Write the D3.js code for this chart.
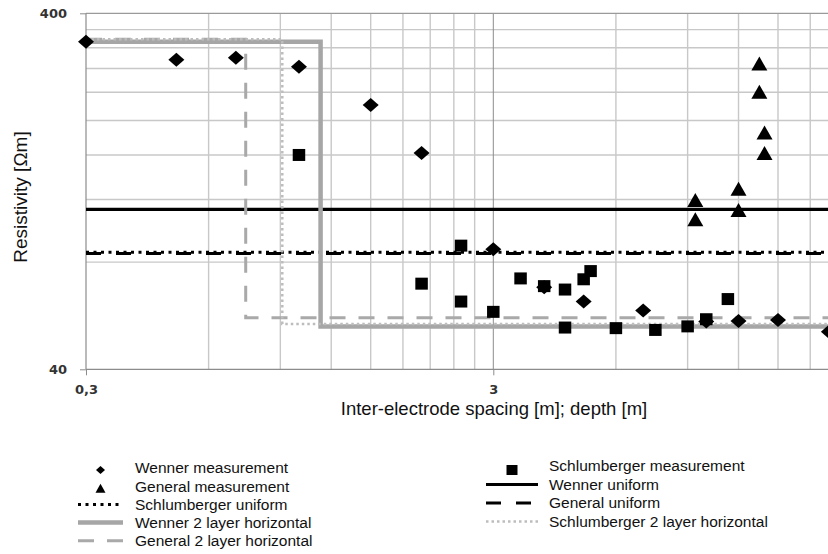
<!DOCTYPE html>
<html>
<head>
<meta charset="utf-8">
<script src="https://cdn.jsdelivr.net/npm/d3@7"></script>
<style>
  body { margin: 0; background: #fff; }
  svg { display: block; font-family: "Liberation Sans", Arial, sans-serif; }
</style>
</head>
<body>
<svg id="chart" width="828" height="554"></svg>
<script>
// measurements
const wennerX = [0.3, 0.5, 0.7, 1, 1.5, 2, 3, 4, 5, 7, 10, 12, 15, 20];
const wennerY = [333, 296, 300, 283, 221, 162, 87, 68, 62, 58.5, 54.5, 54.7, 55, 51];
const schlumX = [1, 2, 2.5, 2.5, 3, 3.5, 4, 4.5, 4.5, 5, 5.2, 6, 7.5, 9, 10, 11.3];
const schlumY = [160, 69.6, 89, 62, 58, 72, 68.5, 67, 52.4, 71.6, 75.5, 52.2, 51.6, 52.8, 55.3, 63];
const generalX = [9.4, 9.4, 12, 12, 13.5, 13.5, 13.9, 13.9];
const generalY = [119.5, 105.5, 128.5, 112, 289, 241, 185, 162];

// uniform models
const wennerUniform = 112.6;
const schlumUniform = 85.3;
const generalUniform = 84.6;

// 2 layer models (x = spacing/depth, y = resistivity)
const wenner2X = [0.3, 1.13, 1.13, 30];
const wenner2Y = [333, 333, 52.8, 52.8];
const schlum2X = [0.3, 0.91, 0.91, 30];
const schlum2Y = [338, 338, 53.6, 53.6];
const general2X = [0.3, 0.74, 0.74, 30];
const general2Y = [338, 338, 55.8, 55.8];

// axes
const xMinor = [0.6, 0.9, 1.2, 1.5, 1.8, 2.1, 2.4, 2.7, 6, 9, 12, 15, 18, 21, 24, 27];
const xMajor = [3, 30];
const yMinor = [80, 120, 160, 200, 240, 280, 320, 360];
const yMajor = [400];
const xTicks = [0.3, 3];
const yTicks = [40, 400];

const svg = d3.select('#chart');

const margin = {left: 86, top: 13.3, bottom: 369.3};
const xScale = d3.scaleLog().domain([0.3, 30]).range([margin.left, margin.left + 2 * 407.3]);
const yScale = d3.scaleLog().domain([40, 400]).range([margin.bottom, margin.top]);
const x0 = xScale.range()[0], x1 = xScale.range()[1];

// grid
const grid = svg.append('g');
xMinor.forEach(v => {
    grid.append('line')
        .attr('x1', xScale(v)).attr('x2', xScale(v))
        .attr('y1', margin.top).attr('y2', margin.bottom)
        .style('stroke', '#c8c8c8').style('stroke-width', 1.4);
});
yMinor.forEach(v => {
    grid.append('line')
        .attr('x1', x0).attr('x2', x1)
        .attr('y1', yScale(v)).attr('y2', yScale(v))
        .style('stroke', '#c8c8c8').style('stroke-width', 1.4);
});
xMajor.forEach(v => {
    grid.append('line')
        .attr('x1', xScale(v)).attr('x2', xScale(v))
        .attr('y1', margin.top).attr('y2', margin.bottom)
        .style('stroke', '#8c8c8c').style('stroke-width', 1);
});
yMajor.forEach(v => {
    grid.append('line')
        .attr('x1', x0).attr('x2', x1)
        .attr('y1', yScale(v)).attr('y2', yScale(v))
        .style('stroke', '#9a9a9a').style('stroke-width', 1.2);
});

// axes
const commaFmt = d3.formatLocale({decimal: ',', thousands: '.', grouping: [3], currency: ['', '']}).format('~g');

const yAxis = svg.append('g')
    .attr('transform', `translate(${x0},0)`)
    .call(d3.axisLeft(yScale).tickValues(yTicks).tickFormat(d => d).tickSize(6).tickPadding(13));
const xAxis = svg.append('g')
    .attr('transform', `translate(0,${margin.bottom})`)
    .call(d3.axisBottom(xScale).tickValues(xTicks).tickFormat(commaFmt).tickSize(6).tickPadding(9));

[yAxis, xAxis].forEach(a => {
    a.select('.domain').remove();
    a.selectAll('line').style('stroke', '#8c8c8c');
    a.selectAll('text')
        .style('font-family', '"DejaVu Sans", sans-serif')
        .style('font-size', '13px')
        .style('font-weight', 'bold')
        .style('fill', '#333');
});
svg.append('line').attr('x1', x0).attr('x2', x0).attr('y1', margin.top).attr('y2', margin.bottom)
    .style('stroke', '#8c8c8c').style('stroke-width', 1.2);
svg.append('line').attr('x1', x0).attr('x2', x1).attr('y1', margin.bottom).attr('y2', margin.bottom)
    .style('stroke', '#8c8c8c').style('stroke-width', 1.2);

// axis titles
svg.append('text')
    .attr('transform', `translate(27,197) rotate(-90)`)
    .attr('text-anchor', 'middle')
    .style('font-size', '19px')
    .style('fill', '#111')
    .text('Resistivity [Ωm]');
svg.append('text')
    .attr('x', 494).attr('y', 415)
    .attr('text-anchor', 'middle')
    .style('font-size', '18.5px')
    .style('fill', '#111')
    .text('Inter-electrode spacing [m]; depth [m]');

// line styles
const styles = {
    wennerU: {stroke: '#000', width: 3.2, dash: null},
    schlumU: {stroke: '#000', width: 3, dash: '3,4.5'},
    generalU: {stroke: '#000', width: 3, dash: '15,15'},
    wenner2: {stroke: '#a6a6a6', width: 4.5, dash: null},
    schlum2: {stroke: '#bdbdbd', width: 2.5, dash: '2.5,3'},
    general2: {stroke: '#a9a9a9', width: 3, dash: '16,13'}
};

const lineGen = d3.line().x(d => xScale(d[0])).y(d => yScale(d[1]));
const plotLine = (xs, ys, st) => {
    svg.append('path')
        .datum(xs.map((v, i) => [v, ys[i]]))
        .attr('d', lineGen)
        .style('fill', 'none')
        .style('stroke', st.stroke)
        .style('stroke-width', st.width)
        .style('stroke-dasharray', st.dash);
};

plotLine([0.3, 30], [wennerUniform, wennerUniform], styles.wennerU);
plotLine([0.3, 30], [generalUniform, generalUniform], styles.generalU);
plotLine([0.3, 30], [schlumUniform, schlumUniform], styles.schlumU);
plotLine(wenner2X, wenner2Y, styles.wenner2);
plotLine(general2X, general2Y, styles.general2);
plotLine(schlum2X, schlum2Y, styles.schlum2);

// markers
const diamond = (w, h) => `M0,${-h / 2}L${w / 2},0L0,${h / 2}L${-w / 2},0Z`;
const square = (w, h) => `M${-w / 2},${-h / 2}h${w}v${h}h${-w}Z`;
const triangle = (w, h) => `M0,${-h / 2}L${w / 2},${h / 2}L${-w / 2},${h / 2}Z`;

const plotMarkers = (xs, ys, shape) => {
    svg.append('g').selectAll('path')
        .data(xs.map((v, i) => [v, ys[i]]))
        .join('path')
        .attr('transform', d => `translate(${xScale(d[0])},${yScale(d[1])})`)
        .attr('d', shape)
        .style('fill', '#000');
};

plotMarkers(wennerX, wennerY, diamond(16, 14));
plotMarkers(schlumX, schlumY, square(12.5, 12));
plotMarkers(generalX, generalY, triangle(16, 14));

// legend
const legendLeft = [
    {label: 'Wenner measurement', marker: diamond(9, 8)},
    {label: 'General measurement', marker: triangle(10, 9)},
    {label: 'Schlumberger uniform', line: styles.schlumU},
    {label: 'Wenner 2 layer horizontal', line: styles.wenner2},
    {label: 'General 2 layer horizontal', line: styles.general2}
];
const legendRight = [
    {label: 'Schlumberger measurement', marker: square(11, 10), dy: 4},
    {label: 'Wenner uniform', line: styles.wennerU},
    {label: 'General uniform', line: styles.generalU},
    {label: 'Schlumberger 2 layer horizontal', line: styles.schlum2}
];

const drawLegend = (items, sx0, sx1, tx, y0, step) => {
    items.forEach((it, i) => {
        const y = y0 + i * step;
        if (it.marker) {
            svg.append('path')
                .attr('transform', `translate(${(sx0 + sx1) / 2},${y + (it.dy || 2)})`)
                .attr('d', it.marker)
                .style('fill', '#000');
        } else {
            svg.append('line')
                .attr('x1', sx0).attr('x2', sx1).attr('y1', y).attr('y2', y)
                .style('stroke', it.line.stroke)
                .style('stroke-width', it.line.width)
                .style('stroke-dasharray', it.line.dash);
        }
        svg.append('text')
            .attr('x', tx).attr('y', y)
            .attr('dy', '0.35em')
            .style('font-size', '15.5px')
            .style('fill', '#111')
            .text(it.label);
    });
};

drawLegend(legendLeft, 78, 123, 135, 468, 18.2);
drawLegend(legendRight, 486, 538, 549, 466, 18.5);
</script>
</body>
</html>
